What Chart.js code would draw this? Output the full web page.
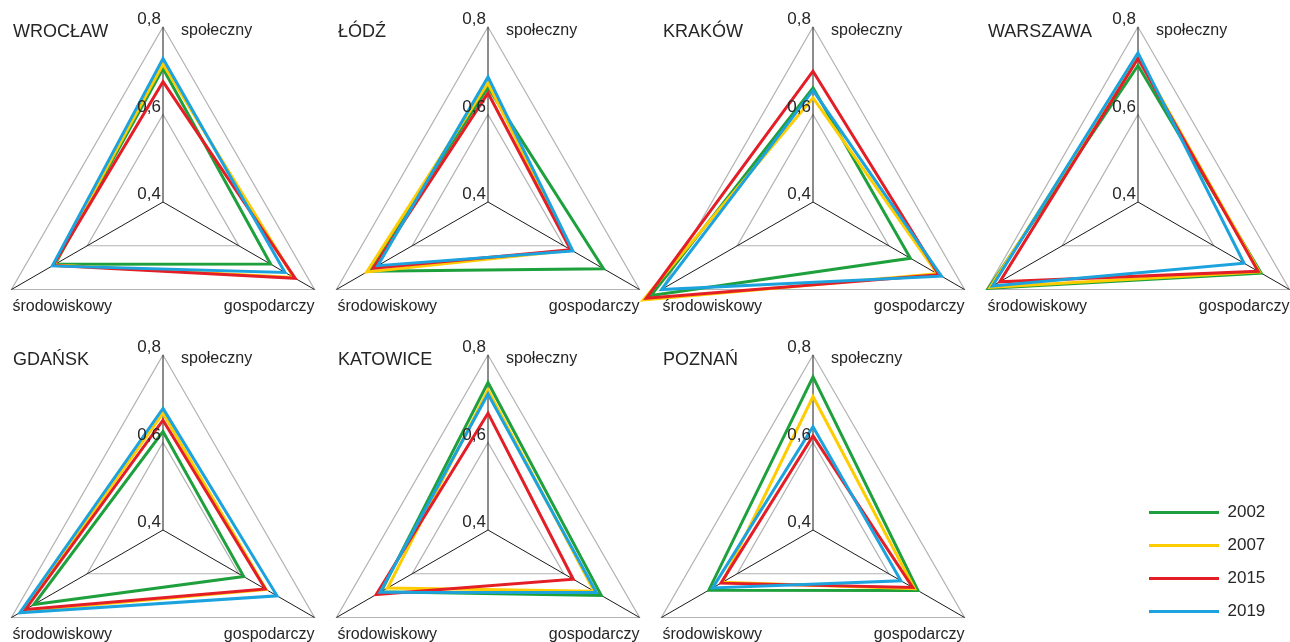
<!DOCTYPE html>
<html>
<head>
<meta charset="utf-8">
<script src="https://cdn.jsdelivr.net/npm/chart.js@4.4.1/dist/chart.umd.min.js"></script>
<style>
    html, body { margin: 0; padding: 0; background: #ffffff; overflow: hidden; }
    body { width: 1290px; height: 642px; position: relative; }
    canvas { position: absolute; }
</style>
</head>
<body>
<script>
// axes: społeczny, gospodarczy, środowiskowy
const axis_labels = ["społeczny", "gospodarczy", "środowiskowy"];
const years = ["2002", "2007", "2015", "2019"];
const year_colors = ["rgb(30, 160, 60)", "rgb(255, 204, 0)", "rgb(228, 30, 38)", "rgb(28, 163, 222)"];
const tick_labels = ["0,4", "0,6", "0,8"];
const tick_values = [0.4, 0.6, 0.8];

// one row per year: [społeczny, gospodarczy, środowiskowy]
const wroclaw  = [[0.705, 0.684, 0.685], [0.715, 0.745, 0.688], [0.675, 0.749, 0.690], [0.728, 0.722, 0.692]];
const lodz     = [[0.662, 0.705, 0.716], [0.672, 0.620, 0.720], [0.649, 0.618, 0.703], [0.686, 0.624, 0.691]];
const krakow   = [[0.661, 0.657, 0.827], [0.638, 0.728, 0.848], [0.699, 0.732, 0.840], [0.655, 0.739, 0.800]];
const warszawa = [[0.712, 0.725, 0.795], [0.732, 0.720, 0.790], [0.728, 0.717, 0.765], [0.741, 0.680, 0.784]];
const gdansk   = [[0.625, 0.613, 0.741], [0.667, 0.672, 0.770], [0.651, 0.670, 0.763], [0.678, 0.701, 0.778]];
const katowice = [[0.737, 0.699, 0.682], [0.720, 0.680, 0.665], [0.667, 0.625, 0.695], [0.711, 0.686, 0.685]];
const poznan   = [[0.750, 0.677, 0.675], [0.705, 0.668, 0.639], [0.615, 0.663, 0.643], [0.636, 0.632, 0.665]];

const city_names = ["WROCŁAW", "ŁÓDŹ", "KRAKÓW", "WARSZAWA", "GDAŃSK", "KATOWICE", "POZNAŃ"];
const city_data = [wroclaw, lodz, krakow, warszawa, gdansk, katowice, poznan];

const SIZE = 350;
const MARGIN = 45;
const text_color = "#262626";

// titles, tick labels and axis names, placed from the radial scale
const panel_text_plugin = {
    id: "panelText",
    afterDraw(chart, args, opts) {
        const ctx = chart.ctx;
        const r = chart.scales.r;
        const top = r.getPointPositionForValue(0, 0.8);
        ctx.save();
        ctx.fillStyle = text_color;
        ctx.textBaseline = "alphabetic";

        ctx.font = "18px 'Liberation Sans', Arial, sans-serif";
        ctx.textAlign = "left";
        ctx.fillText(opts.title, r.xCenter - 150, top.y + 10);

        ctx.font = "17px 'Liberation Sans', Arial, sans-serif";
        ctx.textAlign = "right";
        tick_values.forEach((v, i) => {
            const p = r.getPointPositionForValue(0, v);
            ctx.fillText(tick_labels[i], p.x - 2, p.y - 3);
        });

        ctx.font = "16px 'Liberation Sans', Arial, sans-serif";
        ctx.textAlign = "left";
        ctx.fillText(axis_labels[0], top.x + 18, top.y + 8);
        const right = r.getPointPositionForValue(1, 0.8);
        const left = r.getPointPositionForValue(2, 0.8);
        ctx.textAlign = "right";
        ctx.fillText(axis_labels[1], right.x, right.y + 21);
        ctx.textAlign = "left";
        ctx.fillText(axis_labels[2], left.x + 1, left.y + 21);
        ctx.restore();
    }
};

city_data.forEach((values, k) => {
    const col = k % 4;
    const row = Math.floor(k / 4);
    const cx = 163 + col * 325;
    const cy = row === 0 ? 202 : 530;

    const canvas = document.createElement("canvas");
    canvas.width = SIZE + 2 * MARGIN;
    canvas.height = SIZE + 2 * MARGIN;
    canvas.style.left = (cx - SIZE / 2 - MARGIN) + "px";
    canvas.style.top = (cy - SIZE / 2 - MARGIN) + "px";
    document.body.appendChild(canvas);

    new Chart(canvas,
    {
        type: "radar",
        data:
        {
            labels: axis_labels,
            datasets: years.map((y, i) => ({
                label: y,
                data: values[i],
                borderColor: year_colors[i],
                backgroundColor: year_colors[i],
                borderWidth: 3,
                fill: false,
                pointRadius: 0,
                pointHoverRadius: 0,
                order: years.length - 1 - i
            }))
        },
        options:
        {
            responsive: false,
            animation: false,
            events: [],
            layout: { padding: MARGIN },
            plugins:
            {
                legend: { display: false },
                tooltip: { enabled: false },
                panelText: { title: city_names[k] }
            },
            scales:
            {
                r:
                {
                    min: 0.4,
                    max: 0.8,
                    beginAtZero: false,
                    ticks: { display: false, stepSize: 0.2 },
                    pointLabels: { display: false },
                    grid: { color: "#b3b3b3", lineWidth: 1.2 },
                    angleLines: { color: "#1a1a1a", lineWidth: 1 }
                }
            }
        },
        plugins: [panel_text_plugin]
    });
});

// legend block, bottom right
const legend_canvas = document.createElement("canvas");
legend_canvas.width = 300;
legend_canvas.height = 170;
legend_canvas.style.left = "1133px";
legend_canvas.style.top = "488px";
document.body.appendChild(legend_canvas);

new Chart(legend_canvas,
{
    type: "line",
    data:
    {
        labels: [],
        datasets: years.map((y, i) => ({
            label: y,
            data: [],
            borderColor: year_colors[i],
            backgroundColor: year_colors[i],
            borderWidth: 3
        }))
    },
    options:
    {
        responsive: false,
        animation: false,
        events: [],
        layout: { padding: 0 },
        plugins:
        {
            tooltip: { enabled: false },
            legend:
            {
                position: "left",
                align: "start",
                labels:
                {
                    usePointStyle: true,
                    pointStyle: "line",
                    pointStyleWidth: 70,
                    color: text_color,
                    font: { size: 17, family: "'Liberation Sans', Arial, sans-serif" },
                    padding: 16
                }
            }
        },
        scales:
        {
            x: { display: false },
            y: { display: false }
        }
    }
});
</script>
</body>
</html>
